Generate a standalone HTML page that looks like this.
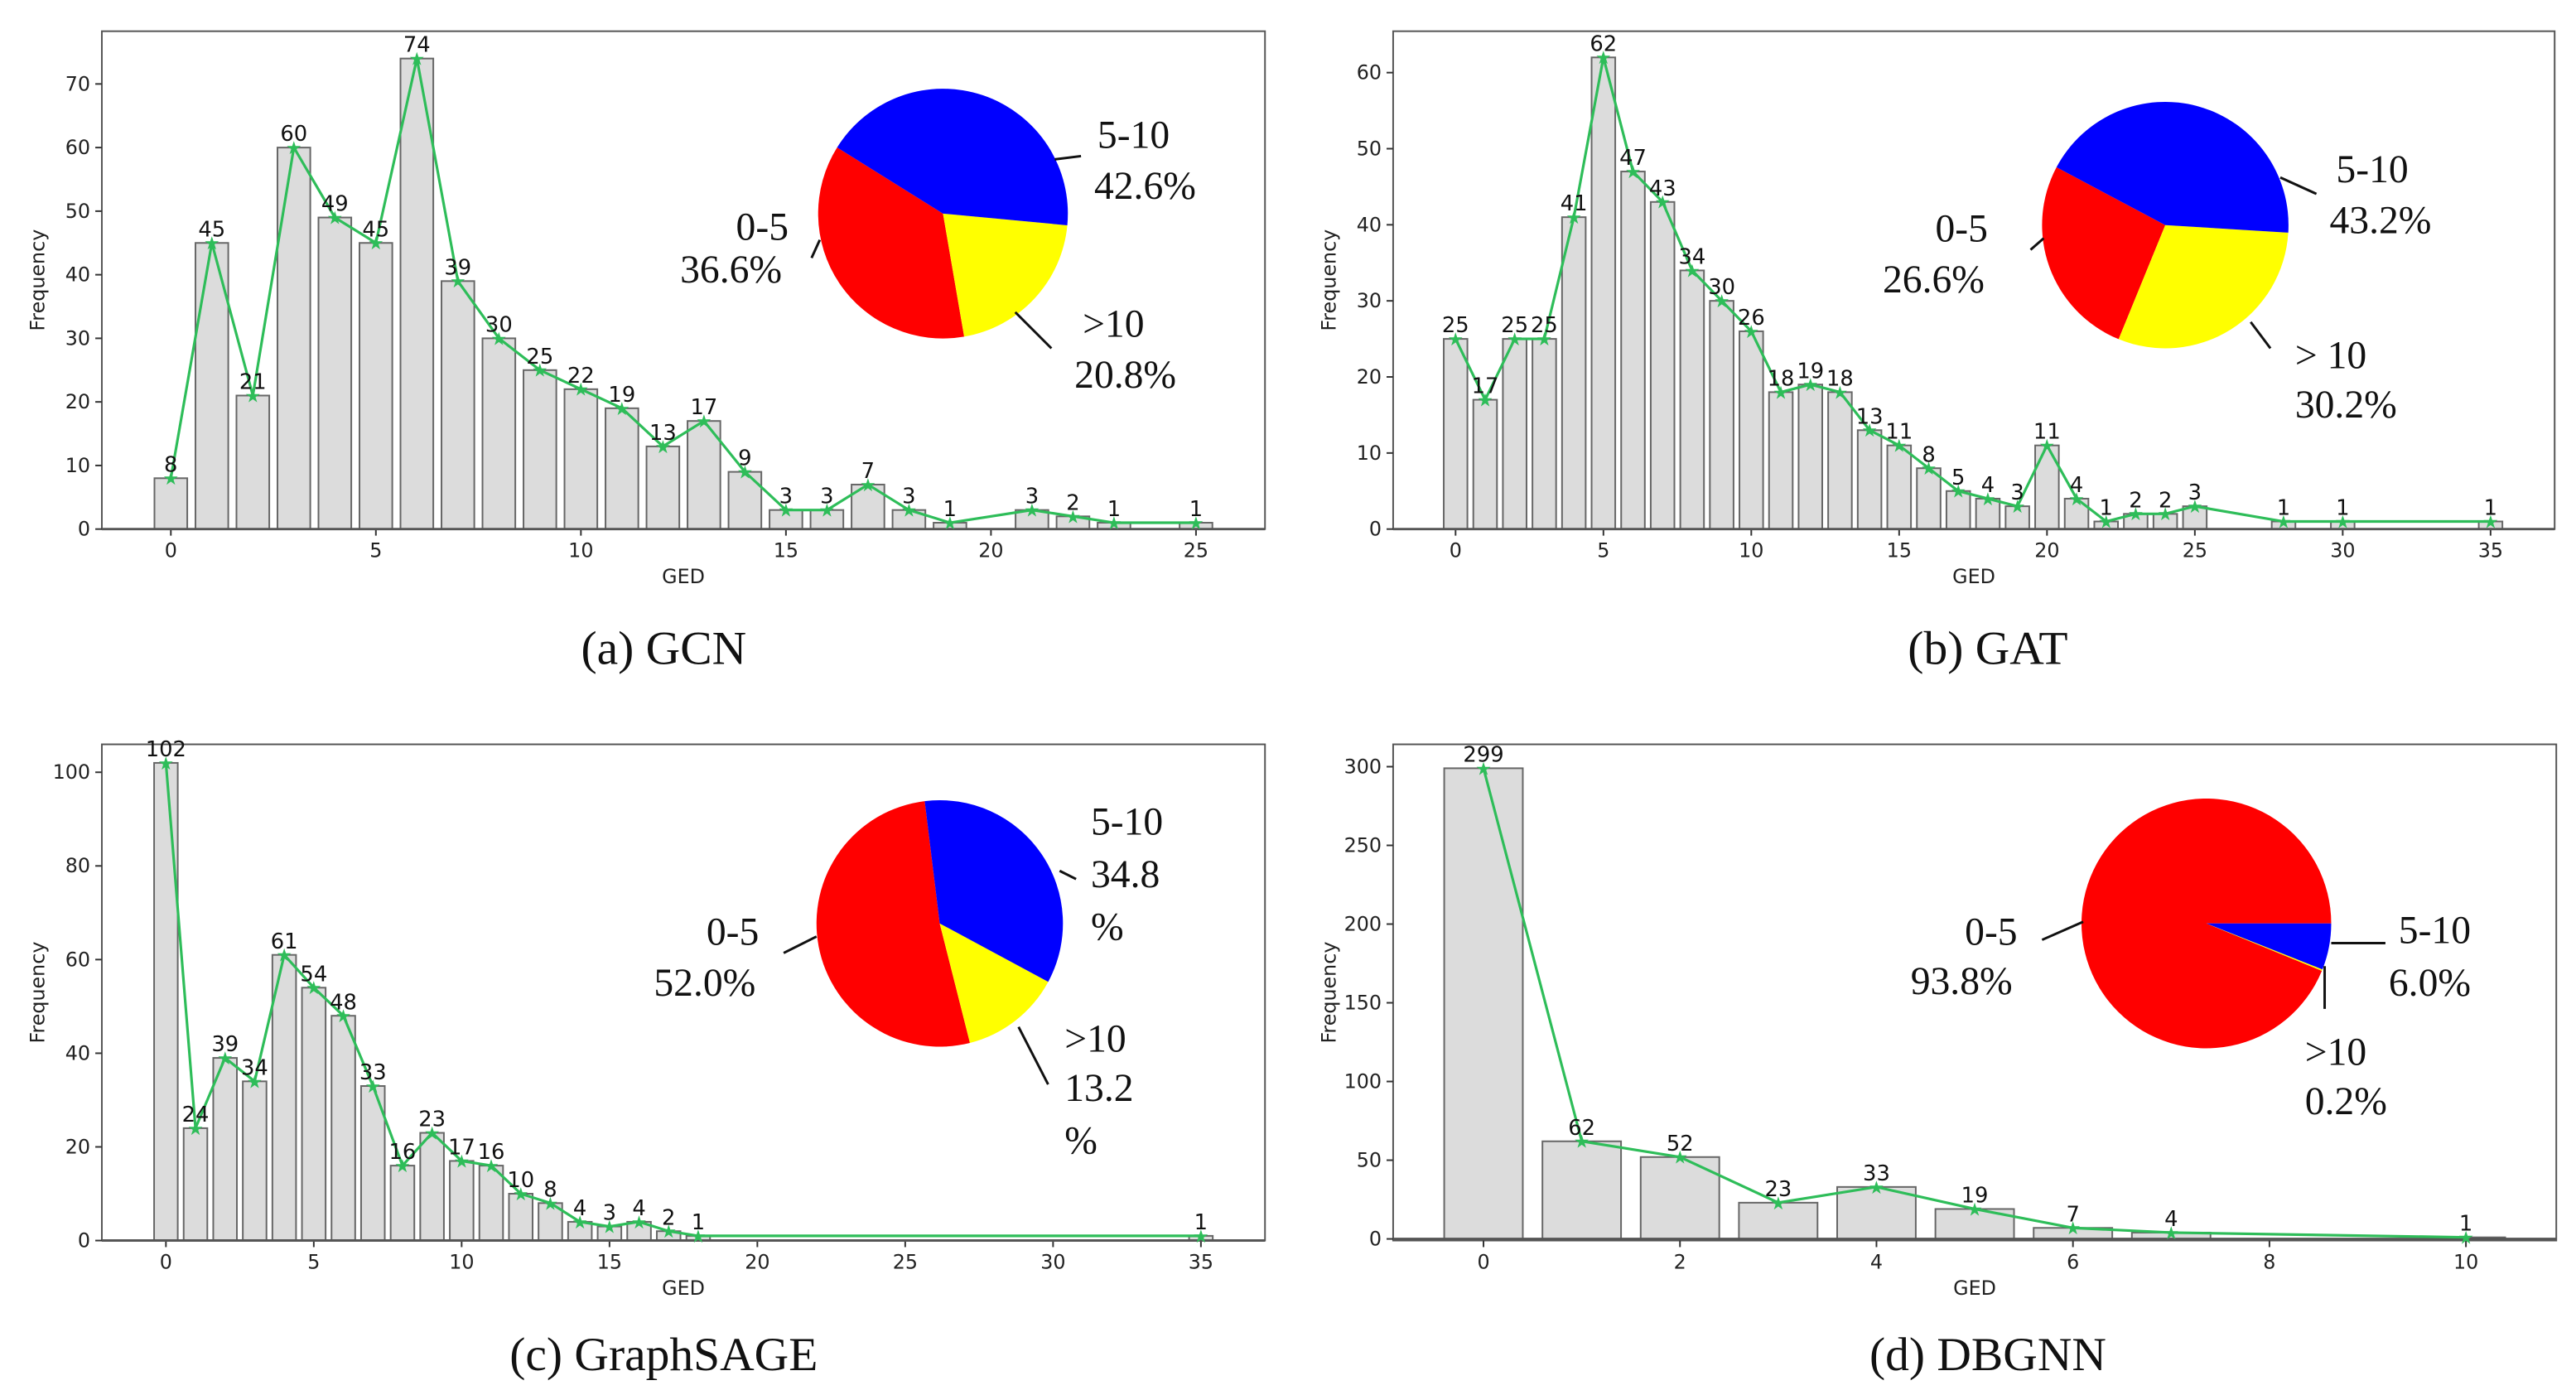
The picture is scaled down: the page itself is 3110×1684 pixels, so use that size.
<!DOCTYPE html>
<html><head><meta charset="utf-8"><style>
html,body{margin:0;padding:0;background:#fff;}
svg{display:block;}
text{font-family:"DejaVu Sans","Liberation Sans",sans-serif;}
.cap,.pl{font-family:"Liberation Serif",serif;}
</style></head><body>
<svg id="fig" width="3110" height="1684" viewBox="0 0 1568 849" preserveAspectRatio="none" xmlns="http://www.w3.org/2000/svg"></svg>
<script>
// ---- data ----
const gcnX=[0,1,2,3,4,5,6,7,8,9,10,11,12,13,14,15,16,17,18,19,21,22,23,25];
const gcnY=[8,45,21,60,49,45,74,39,30,25,22,19,13,17,9,3,3,7,3,1,3,2,1,1];
const gatX=[0,1,2,3,4,5,6,7,8,9,10,11,12,13,14,15,16,17,18,19,20,21,22,23,24,25,28,30,35];
const gatY=[25,17,25,25,41,62,47,43,34,30,26,18,19,18,13,11,8,5,4,3,11,4,1,2,2,3,1,1,1];
const sageX=[0,1,2,3,4,5,6,7,8,9,10,11,12,13,14,15,16,17,18,35];
const sageY=[102,24,39,34,61,54,48,33,16,23,17,16,10,8,4,3,4,2,1,1];
const dbX=[0,1,2,3,4,5,6,7,10];
const dbY=[299,62,52,23,33,19,7,4,1];
const gcnTicks=[0,5,10,15,20,25], gcnYT=[0,10,20,30,40,50,60,70];
const gatTicks=[0,5,10,15,20,25,30,35], gatYT=[0,10,20,30,40,50,60];
const sageTicks=[0,5,10,15,20,25,30,35], sageYT=[0,20,40,60,80,100];
const dbTicks=[0,2,4,6,8,10], dbYT=[0,50,100,150,200,250,300];
const pieLabels=['0-5','>10','5-10'];
const gcnPie=[36.6,20.8,42.6], gatPie=[26.6,30.2,43.2], sagePie=[52.0,13.2,34.8], dbPie=[93.8,0.2,6.0];
const pieColors=['#ff0000','#ffff00','#0000ff'];

const NS='http://www.w3.org/2000/svg';
const svg=document.getElementById('fig');
function el(tag,attrs,parent,txt){const e=document.createElementNS(NS,tag);for(const k in attrs)e.setAttribute(k,attrs[k]);if(txt!==undefined)e.textContent=txt;(parent||svg).appendChild(e);return e;}

function panel(id,box,xr,yr,xs,ys,xt,yt,bw){
  const g=el('g',{});
  
  
  const X=v=>xr[0]+(v-xr[1])*xr[2];
  const Y=v=>yr[0]-v*yr[1];
  el('rect',{x:box[0],y:box[1],width:box[2]-box[0],height:box[3]-box[1],fill:'none',stroke:'#555','stroke-width':1},g);
  xt.forEach(t=>{el('line',{x1:X(t),x2:X(t),y1:box[3],y2:box[3]+4,stroke:'#333'},g);
    const tx=el('text',{x:X(t),y:box[3]+17,'font-size':12,'text-anchor':'middle',fill:'#222'},g,t);
    
    });
  yt.forEach(t=>{el('line',{x1:box[0]-4,x2:box[0],y1:Y(t),y2:Y(t),stroke:'#333'},g);
    const tx=el('text',{x:box[0]-7,y:Y(t)+4,'font-size':12,'text-anchor':'end',fill:'#222'},g,t);
    
    });
  const xl=el('text',{x:(box[0]+box[2])/2,y:box[3]+33,'font-size':12,'text-anchor':'middle',fill:'#222'},g,'GED');
  
  
  const cy=(box[1]+box[3])/2;
  const yl=el('text',{x:box[0]-35,y:cy,'font-size':12,'text-anchor':'middle',fill:'#222',transform:`rotate(-90 ${box[0]-35} ${cy})`},g,'Frequency');
  
  
  xs.forEach((x,i)=>{
    const w=bw*xr[2];
    const r=el('rect',{x:X(x)-w/2,y:Y(ys[i]),width:w,height:yr[1]*ys[i],fill:'#dcdcdc',stroke:'#666','stroke-width':1},g);
    
    
  });
  el('line',{x1:box[0],x2:box[2],y1:Y(0),y2:Y(0),stroke:'#555','stroke-width':1.5},g);
  const pts=xs.map((x,i)=>X(x)+','+Y(ys[i])).join(' ');
  const pl=el('polyline',{points:pts,fill:'none',stroke:'#2ebd59','stroke-width':1.6},g);
  
  
  xs.forEach((x,i)=>{
    const m=el('text',{x:X(x),y:Y(ys[i])+4,'font-size':11,'text-anchor':'middle',fill:'#2ebd59'},g,'★');
    
    
    const l=el('text',{x:X(x),y:Y(ys[i])-4,'font-size':13,'text-anchor':'middle',fill:'#111'},g,ys[i]);
    
    
  });
  return g;
}
function pie(id,cx,cy,r,vals,start,labels){
  const g=el('g',{});
  
  
  let a=start;
  vals.forEach((v,i)=>{
    const sweep=v/100*360;
    const a1=a*Math.PI/180,a2=(a+sweep)*Math.PI/180;
    const x1=cx+r*Math.cos(a1),y1=cy-r*Math.sin(a1),x2=cx+r*Math.cos(a2),y2=cy-r*Math.sin(a2);
    const large=sweep>180?1:0;
    const p=el('path',{d:`M${cx},${cy} L${x1},${y1} A${r},${r} 0 ${large} 0 ${x2},${y2} Z`,fill:pieColors[i]},g);
    
    
    a+=sweep;
  });
  labels.forEach(L=>{
    if(L.line) el('line',{x1:L.line[0],y1:L.line[1],x2:L.line[2],y2:L.line[3],stroke:'#111','stroke-width':1.5},g);
    L.t.forEach(t=>{const tx=el('text',{class:'pl',x:t[0],y:t[1],'font-size':24,fill:'#111'},g,t[2]);
      
      });
  });
}
function cap(x,y,t){const c=el('text',{class:'cap',x:x,y:y,'font-size':29,'text-anchor':'middle',fill:'#111'},svg,t);
  
  }

panel('gcn',[62,19,770,322],[104,0,24.96],[322,3.87],gcnX,gcnY,gcnTicks,gcnYT,0.8);
panel('gat',[848,19,1555,322],[886,0,18.0],[322,4.63],gatX,gatY,gatTicks,gatYT,0.8);
panel('graphsage',[62,453,770,755],[101,0,18.0],[755,2.85],sageX,sageY,sageTicks,sageYT,0.8);
panel('dbgnn',[848,453,1556,755],[903,0,59.8],[754,0.958],dbX,dbY,dbTicks,dbYT,0.8);

pie('gcn',574,130,76,gcnPie,148,[
 {line:[642,97,658,95],t:[[668,90,'5-10'],[666,121,'42.6%']]},
 {line:[494,157,499,146],t:[[448,146,'0-5'],[414,172,'36.6%']]},
 {line:[618,190,640,212],t:[[659,205,'>10'],[654,236,'20.8%']]}]);
pie('gat',1318,137,75,gatPie,152,[
 {line:[1388,108,1410,118],t:[[1422,111,'5-10'],[1418,142,'43.2%']]},
 {line:[1236,152,1244,145],t:[[1178,147,'0-5'],[1146,178,'26.6%']]},
 {line:[1370,196,1382,212],t:[[1397,224,'> 10'],[1397,254,'30.2%']]}]);
pie('graphsage',572,562,75,sagePie,97,[
 {line:[645,530,655,535],t:[[664,508,'5-10'],[664,540,'34.8'],[664,572,'%']]},
 {line:[477,580,497,570],t:[[430,575,'0-5'],[398,606,'52.0%']]},
 {line:[620,625,638,660],t:[[648,640,'>10'],[648,670,'13.2'],[648,702,'%']]}]);
pie('dbgnn',1343,562,76,dbPie,0,[
 {line:[1419,574,1452,574],t:[[1460,574,'5-10'],[1454,606,'6.0%']]},
 {line:[1243,572,1268,561],t:[[1196,575,'0-5'],[1163,605,'93.8%']]},
 {line:[1415,588,1415,614],t:[[1403,648,'>10'],[1403,678,'0.2%']]}]);

cap(404,404,'(a) GCN');
cap(1210,404,'(b) GAT');
cap(404,834,'(c) GraphSAGE');
cap(1210,834,'(d) DBGNN');
</script>
</body></html>
